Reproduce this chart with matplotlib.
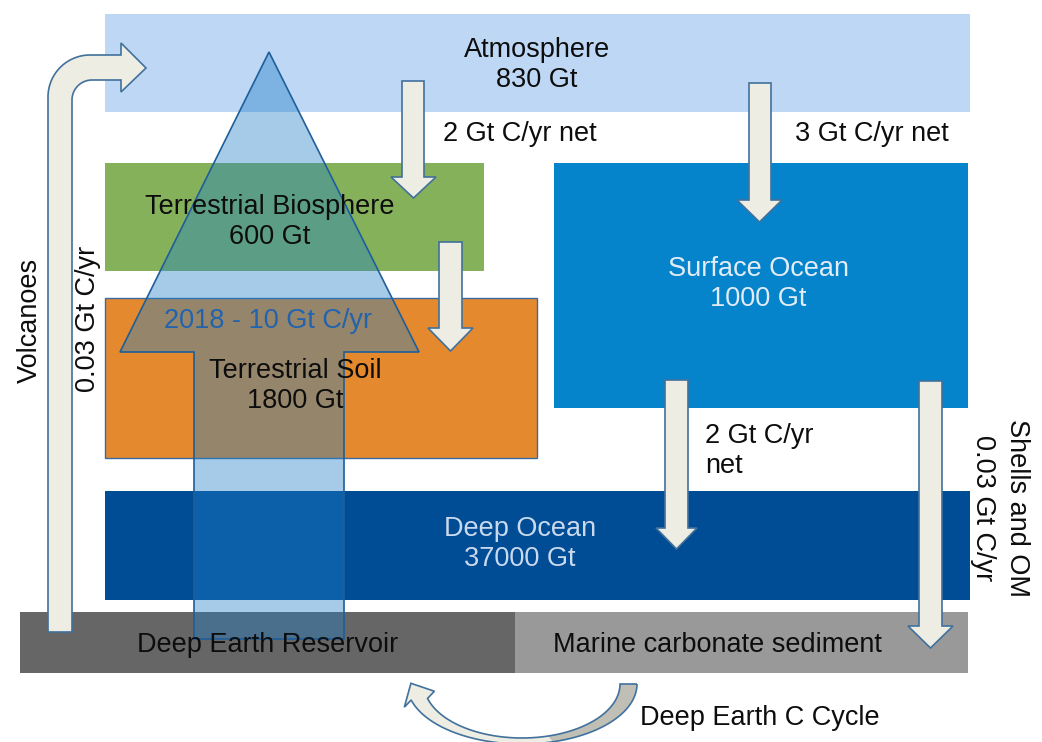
import numpy as np
import matplotlib.pyplot as plt
from matplotlib.patches import Rectangle, Polygon

plt.rcParams['font.family'] = ['Liberation Sans', 'DejaVu Sans']

# carbon reservoirs (Gt C)
reservoir_names = ["Atmosphere", "Terrestrial Biosphere", "Terrestrial Soil",
                   "Surface Ocean", "Deep Ocean"]
reservoir_stocks = [830, 600, 1800, 1000, 37000]
sediment_names = ["Deep Earth Reservoir", "Marine carbonate sediment"]

# net fluxes (Gt C/yr)
atm_to_land_flux = 2
atm_to_ocean_flux = 3
surface_to_deep_flux = 2
volcano_flux = 0.03
shells_flux = 0.03
emission_year = 2018
emission_flux = 10

# box geometry in pixel units: x0, y0, x1, y1
reservoir_boxes = [(105, 14, 970, 112), (105, 163, 484, 271), (105, 298, 537, 458),
                   (554, 163, 968, 408), (105, 491, 970, 600)]
reservoir_colors = ["#BDD7F4", "#86B15B", "#E4892E", "#0584CB", "#004C95"]
reservoir_text_colors = ["#0D0D0D", "#0D0D0D", "#0D0D0D", "#E3ECF6", "#C9D9EE"]
reservoir_text_pos = [(537, 65), (270, 222), (295, 386), (758, 284), (520, 544)]
sediment_boxes = [(20, 612, 515, 673), (515, 612, 968, 673)]
sediment_colors = ["#666666", "#999999"]

ARROW_FILL = "#EEEDE3"
ARROW_EDGE = "#41719C"
FS = 19.5

fig = plt.figure(figsize=(10.42, 7.42), dpi=100)
ax = fig.add_axes([0, 0, 1, 1])
ax.set_xlim(0, 1042)
ax.set_ylim(742, 0)
ax.axis('off')

def box(x0, y0, x1, y1, color, **kw):
    ax.add_patch(Rectangle((x0, y0), x1 - x0, y1 - y0, facecolor=color, **kw))

for b, c in zip(reservoir_boxes, reservoir_colors):
    box(*b, c, edgecolor='none', zorder=1)
# soil box has a thin outline
box(*reservoir_boxes[2], 'none', edgecolor="#3A6BA0", lw=1.0, zorder=1.5)
for b, c in zip(sediment_boxes, sediment_colors):
    box(*b, c, edgecolor='none', zorder=1)

def down_arrow(xl, xr, top, base, hl, hr, tip):
    xm = (hl + hr) / 2
    pts = [(xl, top), (xr, top), (xr, base), (hr, base), (xm, tip),
           (hl, base), (xl, base)]
    ax.add_patch(Polygon(pts, closed=True, facecolor=ARROW_FILL,
                         edgecolor=ARROW_EDGE, lw=1.2, zorder=3))

down_arrow(402, 424, 81, 177, 391, 436, 198)
down_arrow(439, 462, 242, 328, 428, 473, 351)
down_arrow(749, 771, 83, 200, 737, 782, 222)
down_arrow(665, 688, 380, 528, 656, 697, 549)
down_arrow(919, 942, 381, 626, 908, 953, 648)

# volcano arrow: up the left side, bending right into the atmosphere
th_out = np.linspace(np.pi, np.pi / 2, 30)
outer = [(90 + 42 * np.cos(t), 97 - 42 * np.sin(t)) for t in th_out]
th_in = np.linspace(np.pi / 2, np.pi, 30)
inner = [(92 + 20 * np.cos(t), 100 - 20 * np.sin(t)) for t in th_in]
volc = ([(48, 632)] + outer + [(121, 55), (121, 43), (146, 68), (121, 92), (121, 80)]
        + inner + [(72, 632)])
ax.add_patch(Polygon(volc, closed=True, facecolor=ARROW_FILL,
                     edgecolor=ARROW_EDGE, lw=1.2, zorder=3))

# big emissions arrow, semi transparent
big = [(269, 52), (419, 352), (344, 352), (344, 639), (194, 639),
       (194, 352), (120, 352)]
ax.add_patch(Polygon(big, closed=True, facecolor="#1F7FC8", alpha=0.4,
                     edgecolor='none', zorder=4))
ax.add_patch(Polygon(big, closed=True, facecolor='none',
                     edgecolor="#1F5E99", lw=1.2, zorder=4))

# deep earth cycle curved arrow below the sediments
cx, y0 = 522, 684
t_end = np.pi - 0.27

def arc_edges(t0, t1, n=40):
    t = np.linspace(t0, t1, n)
    o = np.column_stack([cx + 115 * np.cos(t), y0 + 60 * np.sin(t)])
    i = np.column_stack([cx + 98 * np.cos(t), y0 + 54 * np.sin(t)])
    return o, i

# arrowhead at the left end
o_end, i_end = arc_edges(t_end, t_end, 1)
mid = (o_end[0] + i_end[0]) / 2
d = np.array([-115 * np.sin(t_end), 60 * np.cos(t_end)])
d = d / np.hypot(*d)
perp = np.array([d[1], -d[0]])   # points to the outer side
head = np.array([mid + 17 * perp, mid + 18 * d, mid - 17 * perp])

# shaded inner face on the right, light face elsewhere
o, i = arc_edges(0, 1.35)
ax.add_patch(Polygon(np.vstack([o, i[::-1]]), closed=True, facecolor="#BFBFB6",
                     edgecolor='none', zorder=3))
o, i = arc_edges(1.3, t_end)
ax.add_patch(Polygon(np.vstack([o, head, i[::-1]]), closed=True,
                     facecolor=ARROW_FILL, edgecolor='none', zorder=3))
o, i = arc_edges(0, t_end, 80)
ax.add_patch(Polygon(np.vstack([o, head, i[::-1]]), closed=True,
                     facecolor='none', edgecolor=ARROW_EDGE, lw=1.2, zorder=3.1))

# reservoir labels
for name, stock, pos, col in zip(reservoir_names, reservoir_stocks,
                                 reservoir_text_pos, reservoir_text_colors):
    ax.text(*pos, f"{name}\n{stock} Gt", ha='center', va='center', fontsize=FS,
            color=col, linespacing=1.2, zorder=6)

ax.text(268, 645, sediment_names[0], ha='center', va='center', fontsize=FS,
        color="#0D0D0D", zorder=6)
ax.text(717, 645, sediment_names[1], ha='center', va='center', fontsize=FS,
        color="#0D0D0D", zorder=6)

ax.text(268, 321, f"{emission_year} - {emission_flux} Gt C/yr", ha='center',
        va='center', fontsize=FS, color="#2263AE", zorder=6)

# flux labels
ax.text(443, 134, f"{atm_to_land_flux} Gt C/yr net", ha='left', va='center',
        fontsize=FS, color="#0D0D0D", zorder=6)
ax.text(795, 134, f"{atm_to_ocean_flux} Gt C/yr net", ha='left', va='center',
        fontsize=FS, color="#0D0D0D", zorder=6)
ax.text(705, 451, f"{surface_to_deep_flux} Gt C/yr\nnet", ha='left', va='center',
        fontsize=FS, color="#0D0D0D", linespacing=1.2, zorder=6)
ax.text(30, 320, "Volcanoes", rotation=90, ha='center', va='center',
        fontsize=FS, color="#0D0D0D", zorder=6)
ax.text(88, 319, f"{volcano_flux} Gt C/yr", rotation=90, ha='center',
        va='center', fontsize=FS, color="#0D0D0D", zorder=6)
ax.text(1017, 508, "Shells and OM", rotation=-90, ha='center', va='center',
        fontsize=FS, color="#0D0D0D", zorder=6)
ax.text(983, 508, f"{shells_flux} Gt C/yr", rotation=-90, ha='center',
        va='center', fontsize=FS, color="#0D0D0D", zorder=6)
ax.text(640, 718, "Deep Earth C Cycle", ha='left', va='center', fontsize=FS,
        color="#0D0D0D", zorder=6)

fig.savefig("out.png", dpi=100)
